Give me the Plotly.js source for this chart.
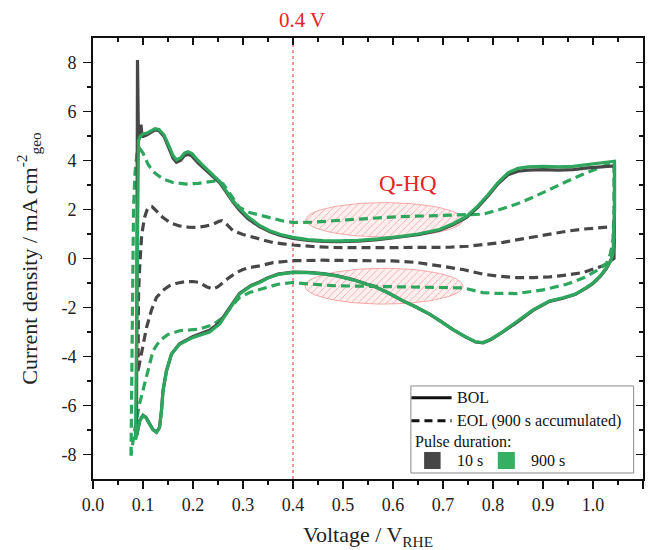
<!DOCTYPE html>
<html>
<head>
<meta charset="utf-8">
<script src="https://cdn.plot.ly/plotly-3.0.1.min.js"></script>
<style>html,body{margin:0;padding:0;background:#fff;}#chart{width:653px;height:550px;}</style>
</head>
<body>
<div id="chart"></div>
<script>
// ---- Data ----
// BOL, 900 s pulse (green solid): anodic branch then cathodic branch
var bol900_x = [0.085,0.086,0.087,0.088,0.089,0.091,0.095,0.100,0.108,0.116,0.124,0.132,0.142,0.152,0.160,0.167,0.175,0.183,0.190,0.198,0.210,0.225,0.240,0.253,0.265,0.280,0.293,0.310,0.333,0.355,0.375,0.400,0.430,0.460,0.493,0.530,0.570,0.613,0.650,0.693,0.720,0.747,0.770,0.790,0.810,0.830,0.850,0.870,0.900,0.930,0.960,0.990,1.020,1.043,
  1.043,1.043,1.042,1.040,1.035,1.027,1.015,1.000,0.987,0.965,0.940,0.913,0.880,0.847,0.815,0.795,0.780,0.765,0.745,0.720,0.695,0.673,0.645,0.620,0.590,0.560,0.547,0.520,0.487,0.460,0.430,0.400,0.370,0.350,0.333,0.317,0.293,0.273,0.253,0.233,0.200,0.173,0.157,0.147,0.140,0.137,0.133,0.127,0.120,0.113,0.106,0.100,0.094,0.090,0.087,0.085];
var bol900_y = [-7.4,-5.0,-2.0,1.0,3.5,4.8,5.0,5.08,5.12,5.2,5.3,5.27,5.05,4.6,4.2,4.03,4.1,4.3,4.36,4.28,4.0,3.7,3.4,3.15,2.8,2.35,2.05,1.7,1.35,1.12,0.98,0.86,0.77,0.73,0.72,0.74,0.8,0.89,1.0,1.18,1.42,1.72,2.15,2.6,3.1,3.5,3.68,3.74,3.76,3.74,3.76,3.84,3.93,3.97,
  3.97,2.0,0.8,0.2,-0.1,-0.37,-0.7,-1.0,-1.18,-1.45,-1.6,-1.73,-2.1,-2.6,-3.05,-3.3,-3.43,-3.4,-3.2,-2.9,-2.55,-2.27,-1.97,-1.73,-1.4,-1.11,-1.05,-0.87,-0.71,-0.63,-0.58,-0.57,-0.65,-0.8,-0.98,-1.11,-1.45,-2.07,-2.68,-3.0,-3.22,-3.5,-3.9,-4.58,-5.4,-6.2,-6.9,-7.1,-7.0,-6.76,-6.5,-6.42,-6.6,-6.95,-7.25,-7.4];

// BOL, 10 s pulse (grey solid)
var bol10_x = [0.087,0.0875,0.088,0.0885,0.0890,0.0905,0.092,0.094,0.096,0.098,0.100,0.108,0.116,0.124,0.132,0.142,0.152,0.160,0.167,0.175,0.183,0.190,0.198,0.210,0.225,0.240,0.253,0.265,0.280,0.293,0.310,0.333,0.355,0.375,0.400,0.430,0.460,0.493,0.530,0.570,0.613,0.650,0.693,0.720,0.747,0.770,0.790,0.810,0.830,0.850,0.870,0.900,0.930,0.960,0.990,1.020,1.043,
  1.043,1.043,1.043,1.042,1.035,1.027,1.015,1.000,0.987,0.965,0.940,0.913,0.880,0.847,0.815,0.795,0.780,0.765,0.745,0.720,0.695,0.673,0.645,0.620,0.590,0.560,0.547,0.520,0.487,0.460,0.430,0.400,0.370,0.350,0.333,0.317,0.293,0.273,0.253,0.233,0.200,0.173,0.157,0.147,0.140,0.137,0.133,0.127,0.120,0.113,0.106,0.100,0.094,0.090,0.088];
var bol10_y = [-7.2,-4.0,0.0,3.8,8.1,5.5,5.0,5.3,5.46,5.0,4.98,5.05,5.15,5.25,5.22,4.98,4.5,4.1,3.93,4.0,4.2,4.25,4.18,3.9,3.62,3.35,3.1,2.75,2.3,1.97,1.62,1.3,1.08,0.94,0.82,0.74,0.7,0.69,0.71,0.77,0.86,0.97,1.15,1.38,1.68,2.1,2.55,3.05,3.42,3.56,3.61,3.63,3.61,3.63,3.7,3.76,3.78,
  3.78,2.0,0.6,0.0,-0.1,-0.4,-0.72,-1.02,-1.2,-1.46,-1.62,-1.75,-2.12,-2.62,-3.06,-3.32,-3.44,-3.41,-3.2,-2.9,-2.55,-2.27,-1.97,-1.73,-1.4,-1.11,-1.04,-0.86,-0.7,-0.62,-0.57,-0.56,-0.64,-0.78,-0.96,-1.09,-1.42,-2.02,-2.62,-2.93,-3.18,-3.48,-3.9,-4.58,-5.4,-6.2,-6.9,-7.08,-6.98,-6.74,-6.48,-6.4,-6.6,-6.95,-7.2];

// EOL, 900 s pulse (green dashed)
var eol900_x = [0.076,0.077,0.078,0.079,0.081,0.084,0.088,0.093,0.100,0.110,0.120,0.127,0.140,0.160,0.187,0.210,0.230,0.247,0.260,0.275,0.293,0.313,0.336,0.360,0.380,0.400,0.440,0.480,0.520,0.560,0.613,0.670,0.727,0.780,0.810,0.847,0.880,0.913,0.945,0.980,1.005,1.027,1.042,
  1.042,1.040,1.035,1.027,1.007,0.980,0.947,0.900,0.847,0.800,0.780,0.740,0.680,0.613,0.540,0.480,0.440,0.400,0.370,0.333,0.313,0.293,0.275,0.260,0.240,0.213,0.190,0.173,0.150,0.133,0.120,0.107,0.093,0.083,0.077,0.076];
var eol900_y = [-8.05,-6.0,-3.0,0.0,2.0,3.5,4.3,4.5,4.3,3.85,3.55,3.44,3.25,3.1,3.04,3.07,3.12,3.17,3.05,2.6,2.08,1.88,1.75,1.62,1.53,1.47,1.48,1.54,1.6,1.65,1.71,1.74,1.77,1.81,1.98,2.22,2.5,2.83,3.12,3.44,3.66,3.82,3.9,
  2.0,0.8,0.2,-0.2,-0.5,-0.8,-1.05,-1.28,-1.43,-1.42,-1.39,-1.2,-1.18,-1.18,-1.14,-1.11,-1.05,-0.98,-1.05,-1.25,-1.39,-1.59,-2.0,-2.41,-2.7,-2.88,-2.93,-2.95,-3.1,-3.36,-3.77,-4.86,-5.94,-7.03,-7.85,-8.05];

// EOL, 10 s pulse (grey dashed)
var eol10_x = [0.090,0.0905,0.091,0.093,0.095,0.097,0.100,0.103,0.108,0.113,0.118,0.125,0.140,0.155,0.173,0.190,0.207,0.225,0.240,0.252,0.258,0.268,0.280,0.300,0.320,0.340,0.360,0.380,0.400,0.440,0.480,0.550,0.613,0.660,0.713,0.750,0.780,0.820,0.847,0.880,0.913,0.950,0.980,1.010,1.037,1.042,
  1.042,1.040,1.037,1.030,1.020,1.000,0.980,0.947,0.913,0.880,0.847,0.815,0.780,0.740,0.713,0.680,0.647,0.600,0.550,0.513,0.460,0.400,0.360,0.333,0.313,0.300,0.287,0.273,0.260,0.250,0.240,0.227,0.213,0.200,0.187,0.170,0.153,0.140,0.127,0.117,0.107,0.100,0.093,0.090];
var eol10_y = [-4.6,-3.0,-1.5,-0.5,0.3,0.86,1.3,1.67,1.98,2.12,2.12,1.98,1.67,1.45,1.33,1.28,1.27,1.32,1.4,1.52,1.54,1.38,1.13,0.98,0.86,0.74,0.65,0.6,0.55,0.49,0.45,0.44,0.45,0.46,0.46,0.5,0.56,0.66,0.76,0.88,1.0,1.12,1.2,1.24,1.28,1.3,
  0.6,0.1,-0.03,-0.18,-0.3,-0.45,-0.57,-0.68,-0.75,-0.78,-0.78,-0.73,-0.64,-0.45,-0.37,-0.24,-0.16,-0.1,-0.08,-0.07,-0.07,-0.09,-0.17,-0.3,-0.37,-0.45,-0.57,-0.77,-0.98,-1.15,-1.25,-1.15,-0.98,-0.94,-0.94,-1.0,-1.11,-1.3,-1.59,-2.1,-2.82,-3.5,-4.18,-4.6];

// Axis tick labels
var xTickVals = [0,0.1,0.2,0.3,0.4,0.5,0.6,0.7,0.8,0.9,1.0,1.1];
var xTickText = ['0.0','0.1','0.2','0.3','0.4','0.5','0.6','0.7','0.8','0.9','1.0','1.1'];
var xMinorVals = [0.05,0.15,0.25,0.35,0.45,0.55,0.65,0.75,0.85,0.95,1.05];
var yTickVals = [-8,-6,-4,-2,0,2,4,6,8];
var yTickText = ['-8','-6','-4','-2','0','2','4','6','8'];
var yMinorVals = [-7,-5,-3,-1,1,3,5,7];

// Q-HQ regions (ellipses): centre x, centre y, half-width, half-height
var qhqUpper = [0.583, 1.58, 0.157, 0.70];
var qhqLower = [0.582, -1.13, 0.158, 0.73];

// ---- Styles ----
var GREY = '#474747', GREEN = '#2ea65d', RED = '#e32626';
var FONT = '"Liberation Serif", "Times New Roman", Times, serif';

function ellipse(p) {
  var xs = [], ys = [];
  for (var i = 0; i <= 72; i++) {
    var t = 2 * Math.PI * i / 72;
    xs.push(p[0] + p[2] * Math.cos(t));
    ys.push(p[1] + p[3] * Math.sin(t));
  }
  return {x: xs, y: ys};
}
function ellTrace(p) {
  var e = ellipse(p);
  return {x: e.x, y: e.y, mode: 'lines', fill: 'toself', type: 'scatter',
    line: {color: 'rgba(240,130,130,0.85)', width: 0.8},
    fillcolor: 'rgba(255,228,228,0.6)',
    fillpattern: {shape: '/', fgcolor: 'rgba(232,90,90,0.6)', bgcolor: 'rgba(255,228,228,0.6)', size: 5, solidity: 0.14},
    showlegend: false, hoverinfo: 'skip'};
}

var dash = '9px,5px';
var traces = [
  ellTrace(qhqUpper),
  ellTrace(qhqLower),
  {x: eol10_x, y: eol10_y, mode: 'lines', type: 'scatter', line: {color: GREY, width: 3.2, dash: dash}, showlegend: false},
  {x: eol900_x, y: eol900_y, mode: 'lines', type: 'scatter', line: {color: GREEN, width: 3.2, dash: dash}, showlegend: false},
  {x: bol10_x, y: bol10_y, mode: 'lines', type: 'scatter', line: {color: GREY, width: 3.2}, showlegend: false},
  {x: bol900_x, y: bol900_y, mode: 'lines', type: 'scatter', line: {color: GREEN, width: 3.2}, showlegend: false},
  {x: [null], y: [null], xaxis: 'x2', yaxis: 'y2', mode: 'lines', type: 'scatter', showlegend: false, hoverinfo: 'skip'}
];

var tickFont = {family: FONT, size: 18, color: '#222'};
var layout = {
  width: 653, height: 550,
  margin: {l: 93, r: 10, t: 38, b: 71},
  paper_bgcolor: '#fff', plot_bgcolor: '#fff',
  showlegend: false,
  font: {family: FONT, color: '#222'},
  xaxis: {range: [0, 1.1], showline: true, linewidth: 2, linecolor: '#111', mirror: false,
    showgrid: false, zeroline: false, ticks: 'outside', ticklen: 8, tickwidth: 1.5, tickcolor: '#111',
    tickmode: 'array', tickvals: xTickVals, ticktext: xTickText, tickfont: tickFont,
    minor: {tickmode: 'array', tickvals: xMinorVals, ticks: 'outside', ticklen: 4, tickwidth: 1.5, tickcolor: '#111', showgrid: false},
    title: {text: 'Voltage / V<sub>RHE</sub>', font: {family: FONT, size: 22, color: '#222'}, standoff: 14},
    automargin: false},
  yaxis: {range: [-9, 9], showline: true, linewidth: 2, linecolor: '#111', mirror: false,
    showgrid: false, zeroline: false, ticks: 'outside', ticklen: 8, tickwidth: 1.5, tickcolor: '#111',
    tickmode: 'array', tickvals: yTickVals, ticktext: yTickText, tickfont: tickFont, ticklabelstandoff: 3,
    minor: {tickmode: 'array', tickvals: yMinorVals, ticks: 'outside', ticklen: 4, tickwidth: 1.5, tickcolor: '#111', showgrid: false},
    title: {text: 'Current density / mA cm<sup>-2</sup><sub>geo</sub>', font: {family: FONT, size: 22, color: '#222'}, standoff: 18},
    automargin: false},
  xaxis2: {overlaying: 'x', side: 'top', anchor: 'y', range: [0, 1.1], showline: true, linewidth: 2, linecolor: '#111',
    showgrid: false, zeroline: false, ticks: 'inside', ticklen: 7, tickwidth: 1.5, tickcolor: '#111',
    tickmode: 'array', tickvals: xTickVals, showticklabels: false,
    minor: {tickmode: 'array', tickvals: xMinorVals, ticks: 'inside', ticklen: 4, tickwidth: 1.5, tickcolor: '#111', showgrid: false}},
  yaxis2: {overlaying: 'y', side: 'right', anchor: 'x', range: [-9, 9], showline: true, linewidth: 2, linecolor: '#111',
    showgrid: false, zeroline: false, ticks: 'inside', ticklen: 7, tickwidth: 1.5, tickcolor: '#111',
    tickmode: 'array', tickvals: yTickVals, showticklabels: false,
    minor: {tickmode: 'array', tickvals: yMinorVals, ticks: 'inside', ticklen: 4, tickwidth: 1.5, tickcolor: '#111', showgrid: false}},
  shapes: [
    {type: 'line', xref: 'x', yref: 'paper', x0: 0.4, x1: 0.4, y0: 0, y1: 1, layer: 'below',
      line: {color: 'rgba(240,60,60,0.9)', width: 1.2, dash: 'dot'}},
    // legend box
    {type: 'rect', xref: 'paper', yref: 'paper', x0: 0.578, x1: 0.983, y0: 0.0136, y1: 0.211,
      line: {color: '#8a8a8a', width: 1}, fillcolor: 'rgba(255,255,255,1)'},
    {type: 'line', xref: 'paper', yref: 'paper', x0: 0.579, x1: 0.652, y0: 0.184, y1: 0.184, line: {color: '#111', width: 3}},
    {type: 'line', xref: 'paper', yref: 'paper', x0: 0.579, x1: 0.652, y0: 0.132, y1: 0.132, line: {color: '#111', width: 3, dash: '8px,5px'}},
    {type: 'rect', xref: 'paper', yref: 'paper', x0: 0.602, x1: 0.632, y0: 0.0227, y1: 0.0612, line: {width: 0}, fillcolor: GREY},
    {type: 'rect', xref: 'paper', yref: 'paper', x0: 0.736, x1: 0.767, y0: 0.0227, y1: 0.0612, line: {width: 0}, fillcolor: '#34b063'}
  ],
  annotations: [
    {text: '0.4 V', xref: 'x', yref: 'paper', x: 0.418, y: 1.041, showarrow: false, xanchor: 'center', yanchor: 'middle',
      font: {family: FONT, size: 21, color: RED}},
    {text: 'Q-HQ', xref: 'x', yref: 'y', x: 0.63, y: 3.05, showarrow: false, xanchor: 'center', yanchor: 'middle',
      font: {family: FONT, size: 23, color: RED}},
    {text: 'BOL', xref: 'paper', yref: 'paper', x: 0.658, y: 0.184, showarrow: false, xanchor: 'left', yanchor: 'middle',
      font: {family: FONT, size: 16, color: '#111'}},
    {text: 'EOL (900 s accumulated)', xref: 'paper', yref: 'paper', x: 0.658, y: 0.132, showarrow: false, xanchor: 'left', yanchor: 'middle',
      font: {family: FONT, size: 16, color: '#111'}},
    {text: 'Pulse duration:', xref: 'paper', yref: 'paper', x: 0.581, y: 0.0846, showarrow: false, xanchor: 'left', yanchor: 'middle',
      font: {family: FONT, size: 16, color: '#111'}},
    {text: '10 s', xref: 'paper', yref: 'paper', x: 0.659, y: 0.0415, showarrow: false, xanchor: 'left', yanchor: 'middle',
      font: {family: FONT, size: 16, color: '#111'}},
    {text: '900 s', xref: 'paper', yref: 'paper', x: 0.792, y: 0.0415, showarrow: false, xanchor: 'left', yanchor: 'middle',
      font: {family: FONT, size: 16, color: '#111'}}
  ]
};

Plotly.newPlot('chart', traces, layout, {displayModeBar: false, staticPlot: true});
</script>
</body>
</html>
